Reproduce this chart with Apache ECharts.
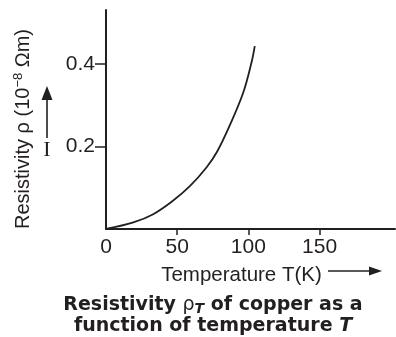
<!DOCTYPE html>
<html>
<head>
<meta charset="utf-8">
<script src="https://cdn.jsdelivr.net/npm/echarts@6/dist/echarts.min.js"></script>
<style>html,body{margin:0;padding:0;background:#fff}#c{width:396px;height:337px}</style>
</head>
<body>
<div id="c"></div>
<script>
// Temperature (K) and resistivity (10^-8 Ωm)
const temperature = [0, 19.2, 33.2, 46.1, 58.9, 70.7, 78.1, 87.0, 96.3, 102.2, 104.5];
const resistivity = [0, 0.016, 0.036, 0.066, 0.104, 0.150, 0.188, 0.252, 0.330, 0.404, 0.444];
const xTickLabels = [0, 50, 100, 150];
const xTicks = [50, 100, 150];
const yTickLabels = [0.2, 0.4];

const ink = '#231f20';
const sans = '"Liberation Sans", Arial, sans-serif';

const chart = echarts.init(document.getElementById('c'), null, {renderer: 'canvas'});
chart.setOption({
  animation: false,
  backgroundColor: '#fff',
  grid: {left: 106, top: 10, right: 1, bottom: 108, containLabel: false},
  xAxis: {
    type: 'value', min: 0, max: 203,
    axisLine: {show: true, lineStyle: {color: ink, width: 2}},
    axisTick: {show: true, customValues: xTicks, length: 6, lineStyle: {color: ink, width: 1.5}},
    axisLabel: {customValues: xTickLabels, fontSize: 21, fontFamily: sans, color: ink, margin: 8},
    splitLine: {show: false}
  },
  yAxis: {
    type: 'value', min: 0, max: 0.5316,
    axisLine: {show: true, lineStyle: {color: ink, width: 2}},
    axisTick: {show: true, customValues: yTickLabels, length: 11, lineStyle: {color: ink, width: 1.5}},
    axisLabel: {customValues: yTickLabels, fontSize: 21, fontFamily: sans, color: ink, margin: 11,
      formatter: v => v.toFixed(1), padding: [6, 0, 0, 0]},
    splitLine: {show: false}
  },
  series: [{
    type: 'line', smooth: 0.35, showSymbol: false,
    data: temperature.map((t, i) => [t, resistivity[i]]),
    lineStyle: {color: ink, width: 1.8}
  }],
  title: {
    text: 'Resistivity {rho|ρ}{sub|T} of copper as a\nfunction of temperature {it|T}',
    left: 208, top: 290, textAlign: 'center',
    textStyle: {
      fontFamily: '"DejaVu Sans", sans-serif', fontWeight: 'bold', fontSize: 19, color: ink, lineHeight: 21,
      rich: {
        rho: {fontFamily: '"DejaVu Sans", sans-serif', fontWeight: 'normal', fontSize: 19, color: ink},
        sub: {fontFamily: '"DejaVu Sans", sans-serif', fontWeight: 'bold', fontStyle: 'italic', fontSize: 14, color: ink, padding: [8, 0, 0, 0]},
        it: {fontFamily: '"DejaVu Sans", sans-serif', fontWeight: 'bold', fontStyle: 'italic', fontSize: 19, color: ink}
      }
    }
  },
  graphic: [
    {
      type: 'text', x: 23, y: 129, rotation: Math.PI / 2,
      style: {
        text: 'Resistivity ρ (10{sup|−8} Ωm)', fill: ink,
        font: '20px "Liberation Sans", Arial, sans-serif',
        align: 'center', verticalAlign: 'middle',
        rich: {sup: {fontSize: 13, fontFamily: sans, fill: ink, padding: [0, 0, 10, 0]}}
      }
    },
    {type: 'line', shape: {x1: 47, y1: 138, x2: 47, y2: 98}, style: {stroke: ink, lineWidth: 1.6}},
    {type: 'polygon', shape: {points: [[47, 86], [41.5, 100], [52.5, 100]]}, style: {fill: ink}},
    {
      type: 'text', x: 47, y: 150,
      style: {text: 'I', fill: ink, font: '22px "Liberation Serif", serif', align: 'center', verticalAlign: 'middle'}
    },
    {
      type: 'text', x: 241.5, y: 275,
      style: {text: 'Temperature T(K)', fill: ink, font: '20.5px "Liberation Sans", Arial, sans-serif', align: 'center', verticalAlign: 'middle'}
    },
    {type: 'line', shape: {x1: 328, y1: 271, x2: 371, y2: 271}, style: {stroke: ink, lineWidth: 1.6}},
    {type: 'polygon', shape: {points: [[382, 271], [369, 266.5], [369, 275.5]]}, style: {fill: ink}}
  ]
});
</script>
</body>
</html>
